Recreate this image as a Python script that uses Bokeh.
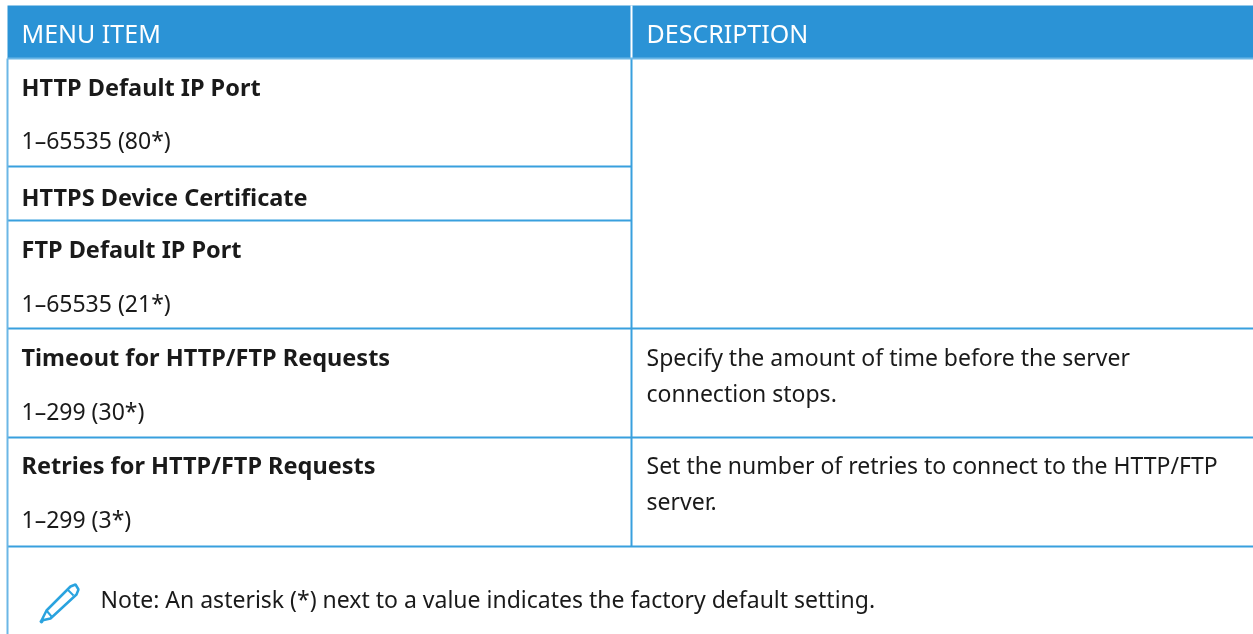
from bokeh.plotting import figure
from bokeh.embed import file_html
from bokeh.resources import INLINE
from bokeh.models import Range1d
from bokeh.core.properties import value

FONT = "Noto Sans"
INK = "#1a1a1a"
BLUE = "#2b93d6"
RULE = "#39a0de"
PALE = "#6cb7e6"

header_labels = ["MENU ITEM", "DESCRIPTION"]
header_x = [21, 646]
bold_labels = ["HTTP Default IP Port", "HTTPS Device Certificate", "FTP Default IP Port",
               "Timeout for HTTP/FTP Requests", "Retries for HTTP/FTP Requests"]
bold_y = [88, 198, 250, 358, 466]
plain_labels = ["1–65535 (80*)", "1–65535 (21*)", "1–299 (30*)", "1–299 (3*)"]
plain_y = [141, 304, 412, 520]
desc_labels = ["Specify the amount of time before the server", "connection stops.",
               "Set the number of retries to connect to the HTTP/FTP", "server."]
desc_y = [358, 394, 466, 502]
note_label = "Note: An asterisk (*) next to a value indicates the factory default setting."
left_rules = [166, 220]
full_rules = [328, 437, 546]

p = figure(width=1253, height=634, output_backend="svg", toolbar_location=None,
           x_range=Range1d(0, 1253), y_range=Range1d(634, 0), min_border=0,
           outline_line_color=None, background_fill_color="white", border_fill_color="white")
p.axis.visible = False
p.grid.visible = False
p.styles = {"position": "fixed", "left": "0px", "top": "0px"}

p.quad(left=[7], right=[1253], top=[5], bottom=[58], fill_color=BLUE, line_color=None)
p.segment(x0=[631], x1=[631], y0=[5], y1=[58], line_color="white", line_width=2)
p.segment(x0=[631], x1=[631], y0=[58], y1=[546], line_color=RULE, line_width=2)
p.segment(x0=[7]*2, x1=[631]*2, y0=left_rules, y1=left_rules, line_color=RULE, line_width=2)
p.segment(x0=[7]*3, x1=[1253]*3, y0=full_rules, y1=full_rules, line_color=RULE, line_width=2)
p.segment(x0=[7], x1=[1253], y0=[58], y1=[58], line_color=PALE, line_width=2)
p.segment(x0=[7], x1=[7], y0=[58], y1=[634], line_color=PALE, line_width=2)

def txt(xs, ys, labels, color=INK, style="normal", size="23px"):
    p.text(x=xs, y=ys, text=labels, text_font=value(FONT), text_font_size=size, y_offset=-2,
           text_color=color, text_font_style=style, text_baseline="middle", text_align="left")

txt(header_x, [34, 34], header_labels, color="white", size="25px")
txt([21]*len(bold_labels), bold_y, bold_labels, style="bold", size="23.5px")
txt([21]*len(plain_labels), plain_y, plain_labels)
txt([646]*len(desc_labels), desc_y, desc_labels)
txt([100], [600], [note_label])

# pencil icon
ICON = "#2aa3df"
p.line(x=[41, 46, 70, 75, 78, 76, 50, 41], y=[620, 610, 586, 584, 589, 594, 618, 620],
       line_color=ICON, line_width=2.5)
p.line(x=[46, 51], y=[610, 616], line_color=ICON, line_width=2)
p.line(x=[67, 73], y=[589, 595], line_color=ICON, line_width=2)
p.scatter(x=[41], y=[621], size=3, color=ICON)

open("out.html", "w").write(file_html(p, INLINE))
